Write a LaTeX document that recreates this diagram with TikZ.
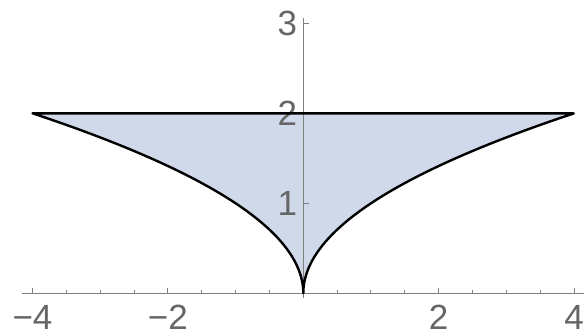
\documentclass[tikz,border=0pt]{standalone}
\usepackage{fontspec}
\setmainfont{Liberation Sans}
\usetikzlibrary{positioning}
\definecolor{regfill}{RGB}{207,217,233}
\definecolor{axgris}{RGB}{128,128,128}
\definecolor{labgris}{RGB}{102,102,102}
\newcommand{\regionpath}{(-4,2) -- plot[domain=2:0, samples=150, variable=\t] ({-\t*\t},\t) -- plot[domain=0:2, samples=150, variable=\t] ({\t*\t},\t) -- cycle}
\tikzset{
  axe/.style={draw=axgris, line width=1pt},
  bord/.style={draw=black, line width=2.4pt, line join=round},
  etiq/.style={text=labgris, inner sep=0pt, font=\fontsize{35}{42}\selectfont},
}
\begin{document}
\begin{tikzpicture}[x=67.7pt, y=90pt]
  \useasboundingbox (-4.4801,-0.4633) rectangle (4.1463,3.2589);
  \fill[regfill] \regionpath;
  \coordinate (xg) at (-4.155,0); \coordinate (xd) at (4.1463,0);
  \coordinate (yb) at (0,-0.056); \coordinate (yh) at (0,3.056);
  \draw[axe] (xg) -- (xd); \draw[axe] (yb) -- (yh);
  \foreach \x in {-3.5,-3,-2.5,-1.5,-1,-0.5,0.5,1,1.5,2.5,3,3.5} \draw[axe] (\x,0) -- ++(0,3.3pt);
  \foreach \x in {-4,-2,2,4} \draw[axe] (\x,0) -- ++(0,5.7pt);
  \foreach \y in {1,2,3} \draw[axe] (0,\y) -- ++(6pt,0);
  \foreach \x/\t in {-4/−4,-2/−2,2/2,4/4} \node[etiq, anchor=north, yshift=-11.5pt] (lx\x) at (\x,0) {\t};
  \foreach \y in {1,2,3} \node[etiq, anchor=east, xshift=-6pt] (ly\y) at (0,\y) {\y};
  \draw[bord] \regionpath;
\end{tikzpicture}
\end{document}
